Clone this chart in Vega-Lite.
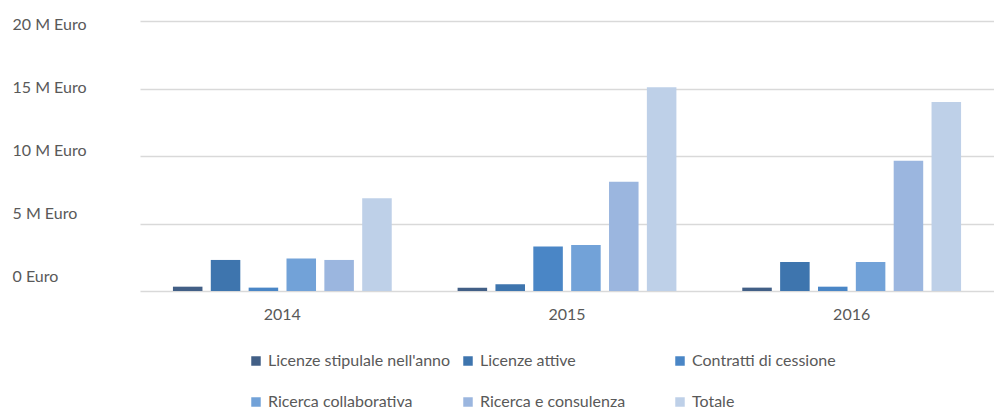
{
  "$schema": "https://vega.github.io/schema/vega-lite/v6.json",
  "autosize": {"type": "none"},
  "width": 854,
  "height": 270,
  "padding": {"left": 140, "top": 21, "right": 0, "bottom": 119},
  "background": "white",
  "config": {
    "view": {"stroke": null},
    "font": "Lato",
    "axis": {"labelFont": "Lato", "labelColor": "#595959", "labelFontSize": 16},
    "legend": {"labelFont": "Lato", "labelColor": "#595959", "labelFontSize": 16}
  },
  "data": {
    "values": [
      {"anno": "2014", "voce": "Licenze stipulale nell'anno", "valore": 320000},
      {"anno": "2014", "voce": "Licenze attive", "valore": 2300000},
      {"anno": "2014", "voce": "Contratti di cessione", "valore": 250000},
      {"anno": "2014", "voce": "Ricerca collaborativa", "valore": 2400000},
      {"anno": "2014", "voce": "Ricerca e consulenza", "valore": 2300000},
      {"anno": "2014", "voce": "Totale", "valore": 6870000},
      {"anno": "2015", "voce": "Licenze stipulale nell'anno", "valore": 250000},
      {"anno": "2015", "voce": "Licenze attive", "valore": 500000},
      {"anno": "2015", "voce": "Contratti di cessione", "valore": 3300000},
      {"anno": "2015", "voce": "Ricerca collaborativa", "valore": 3400000},
      {"anno": "2015", "voce": "Ricerca e consulenza", "valore": 8100000},
      {"anno": "2015", "voce": "Totale", "valore": 15100000},
      {"anno": "2016", "voce": "Licenze stipulale nell'anno", "valore": 250000},
      {"anno": "2016", "voce": "Licenze attive", "valore": 2150000},
      {"anno": "2016", "voce": "Contratti di cessione", "valore": 320000},
      {"anno": "2016", "voce": "Ricerca collaborativa", "valore": 2150000},
      {"anno": "2016", "voce": "Ricerca e consulenza", "valore": 9650000},
      {"anno": "2016", "voce": "Totale", "valore": 14000000}
    ]
  },
  "mark": {"type": "bar"},
  "encoding": {
    "x": {
      "field": "anno",
      "type": "nominal",
      "scale": {"paddingInner": 0, "paddingOuter": -0.025, "align": 0},
      "axis": {
        "title": null,
        "labelAngle": 0,
        "ticks": false,
        "domain": false,
        "labelPadding": 15,
        "labelBaseline": "top"
      }
    },
    "xOffset": {
      "field": "voce",
      "type": "nominal",
      "sort": ["Licenze stipulale nell'anno", "Licenze attive", "Contratti di cessione", "Ricerca collaborativa", "Ricerca e consulenza", "Totale"],
      "scale": {"paddingInner": 0.22, "paddingOuter": 0.87}
    },
    "y": {
      "field": "valore",
      "type": "quantitative",
      "scale": {"domain": [0, 20000000], "nice": false},
      "axis": {
        "title": null,
        "values": [0, 5000000, 10000000, 15000000, 20000000],
        "labelExpr": "datum.value == 0 ? '0 Euro' : (datum.value / 1000000) + ' M Euro'",
        "labelAlign": "left",
        "labelPadding": 128,
        "labelOffset": {"expr": "datum.value / 5000000 * 4.6 - 14.5"},
        "ticks": false,
        "domain": false,
        "gridColor": "#d9d9d9",
        "gridWidth": 1.5
      }
    },
    "color": {
      "field": "voce",
      "type": "nominal",
      "scale": {
        "domain": ["Licenze stipulale nell'anno", "Licenze attive", "Contratti di cessione", "Ricerca collaborativa", "Ricerca e consulenza", "Totale"],
        "range": ["#425f86", "#3e75ae", "#4a86c6", "#72a2d8", "#9bb6df", "#bed0e8"]
      },
      "legend": {
        "title": null,
        "orient": "none",
        "legendX": 108,
        "legendY": 332,
        "direction": "horizontal",
        "columns": 3,
        "gridAlign": "all",
        "columnPadding": 9,
        "rowPadding": 25,
        "symbolType": "square",
        "symbolSize": 90,
        "symbolStrokeWidth": 0,
        "labelOffset": 4,
        "labelLimit": 400,
        "padding": 0
      }
    }
  }
}
